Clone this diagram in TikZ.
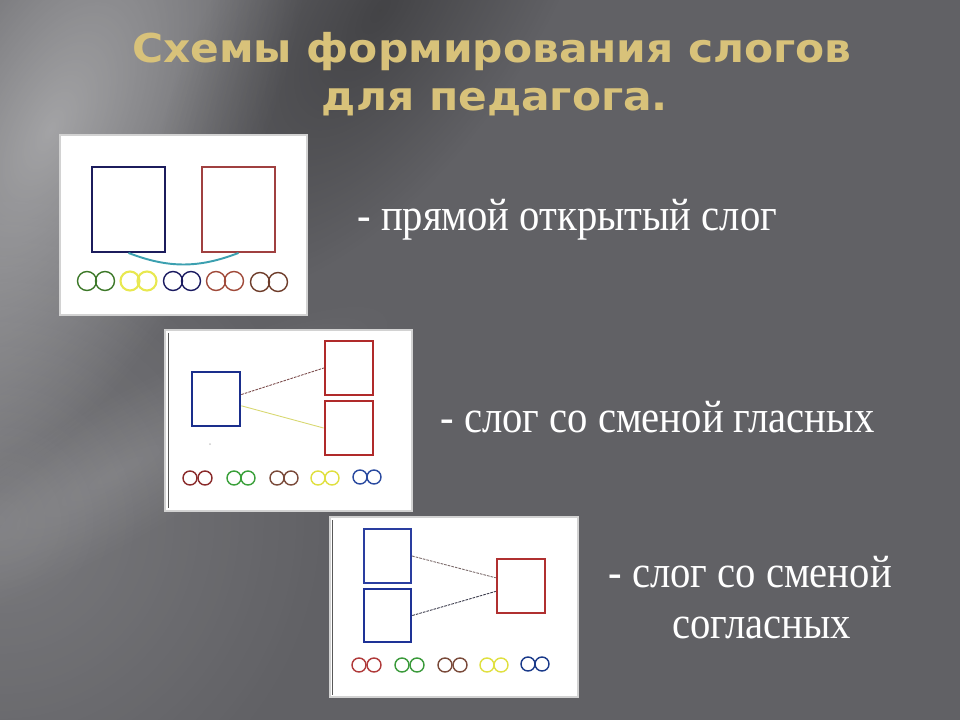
\documentclass[tikz,border=0pt]{standalone}
\usepackage{graphicx}
\usepackage{fontspec}
\setmainfont{Liberation Serif}
\newfontfamily\titlefont{DejaVu Sans}
\usetikzlibrary{fadings}
\tikzfading[name=glowfade, inner color=transparent!0, outer color=transparent!100]
\definecolor{bgbase}{HTML}{616165}
\definecolor{titlegold}{HTML}{D8C27A}
\definecolor{navyA}{RGB}{28,28,92}
\definecolor{redA}{RGB}{160,64,64}
\definecolor{tealA}{RGB}{60,160,176}
\definecolor{greenA}{RGB}{60,120,40}
\definecolor{yellowA}{RGB}{232,232,80}
\definecolor{navyC}{RGB}{26,26,96}
\definecolor{rustA}{RGB}{160,74,58}
\definecolor{brownA}{RGB}{110,60,42}
\definecolor{blueB}{RGB}{26,46,140}
\definecolor{redB}{RGB}{176,42,42}
\definecolor{lineB}{RGB}{122,74,74}
\definecolor{ylineB}{RGB}{216,216,112}
\definecolor{cRedB}{RGB}{138,42,42}
\definecolor{cGreenB}{RGB}{58,160,58}
\definecolor{cBrownB}{RGB}{122,74,58}
\definecolor{cYellowB}{RGB}{224,224,64}
\definecolor{cBlueB}{RGB}{42,74,160}
\definecolor{blueC}{RGB}{42,62,160}
\definecolor{blueD}{RGB}{30,50,150}
\definecolor{redC}{RGB}{176,48,48}
\definecolor{lineC}{RGB}{122,106,106}
\definecolor{lineD}{RGB}{58,58,74}
\definecolor{cRedC}{RGB}{176,58,58}
\definecolor{cGreenC}{RGB}{58,154,58}
\definecolor{cNavyC}{RGB}{26,58,138}
\tikzset{
  panel/.style={fill=white, draw=gray!35, line width=0.6pt},
  sqbox/.style={rectangle, inner sep=0pt, line width=1.1pt, fill=none},
  ringA/.style={circle, inner sep=0pt, minimum size=0.38cm, line width=0.8pt},
  ringB/.style={circle, inner sep=0pt, minimum size=0.28cm, line width=0.8pt},
  bodytext/.style={anchor=base west, inner sep=0pt, text=white, font=\fontsize{26}{31}\selectfont},
  titletext/.style={anchor=base, inner sep=0pt, text=titlegold, font=\titlefont\bfseries\fontsize{22.6}{27}\selectfont},
}
\newcommand{\bodyscale}[1]{\scalebox{0.89}[1]{#1}}
\newcommand{\titlescale}[1]{\scalebox{1.067}[1]{#1}}
\begin{document}
\begin{tikzpicture}[x=0.02cm,y=-0.02cm]
\useasboundingbox (0,0) rectangle (960,720);
% background
\begin{scope}
\clip (0,0) rectangle (960,720);
\fill[bgbase] (0,0) rectangle (960,720);
% broad light on the lower left
\fill[white, opacity=0.16, path fading=glowfade] (0,520) circle (330);
% light band on the left
\begin{scope}[transform canvas={shift={(50,130)}, rotate=63}]
\fill[white, opacity=0.42, path fading=glowfade] (0,0) ellipse (420 and 200);
\end{scope}
% soft light streak lower left
\begin{scope}[transform canvas={shift={(120,470)}, rotate=30}]
\fill[white, opacity=0.12, path fading=glowfade] (0,0) ellipse (320 and 70);
\end{scope}
% dark area at the top
\begin{scope}[transform canvas={shift={(380,10)}, rotate=55}]
\fill[black, opacity=0.3, path fading=glowfade] (0,0) ellipse (330 and 150);
\end{scope}
\end{scope}
% title
\node[titletext] (t1) at (492,62) {\titlescale{Схемы формирования слогов}};
\node[titletext] (t2) at (495,110) {\titlescale{для педагога.}};
% ---------- panel 1
\fill[panel] (60,135) rectangle (307,315);
\node[sqbox, draw=navyA, minimum width=1.46cm, minimum height=1.70cm] (b1) at (128.5,209.5) {};
\node[sqbox, draw=redA, minimum width=1.46cm, minimum height=1.70cm] (r1) at (238.5,209.5) {};
\draw[tealA, line width=1.1pt] (b1.south) to[bend right=21] (r1.south);
\node[ringA, draw=greenA] (p1c1) at (87,281) {};
\node[ringA, draw=greenA] (p1c2) at (105,281) {};
\node[ringA, draw=yellowA, line width=1.2pt] (p1c3) at (130,281) {};
\node[ringA, draw=yellowA, line width=1.2pt] (p1c4) at (147,281) {};
\node[ringA, draw=navyC] (p1c5) at (173,281) {};
\node[ringA, draw=navyC] (p1c6) at (191,281) {};
\node[ringA, draw=rustA] (p1c7) at (216,281) {};
\node[ringA, draw=rustA] (p1c8) at (234,281) {};
\node[ringA, draw=brownA] (p1c9) at (260,282) {};
\node[ringA, draw=brownA] (p1c10) at (278,282) {};
% ---------- panel 2
\fill[panel] (165,330) rectangle (412,511);
\draw[gray!70!black, line width=0.5pt] (168,333) -- (168,508);
\node[sqbox, draw=blueB, line width=1.5pt, minimum width=0.96cm, minimum height=1.08cm] (b2) at (216,399) {};
\node[sqbox, draw=redB, line width=1.4pt, minimum width=0.96cm, minimum height=1.08cm] (r2a) at (349,368) {};
\node[sqbox, draw=redB, line width=1.6pt, minimum width=0.96cm, minimum height=1.08cm] (r2b) at (349,428) {};
\draw[lineB, line width=0.5pt, dash pattern=on 1.5pt off 0.6pt] (b2.10) -- (r2a.west);
\draw[ylineB, line width=0.5pt] (b2.-15) -- (r2b.west);
\fill[gray!40] (210,444) circle (1);
\node[ringB, draw=cRedB] (p2c1) at (190,478) {};
\node[ringB, draw=cRedB] (p2c2) at (205,478) {};
\node[ringB, draw=cGreenB] (p2c3) at (234,478) {};
\node[ringB, draw=cGreenB] (p2c4) at (248,478) {};
\node[ringB, draw=cBrownB] (p2c5) at (277,478) {};
\node[ringB, draw=cBrownB] (p2c6) at (291,478) {};
\node[ringB, draw=cYellowB] (p2c7) at (318,478) {};
\node[ringB, draw=cYellowB] (p2c8) at (332,478) {};
\node[ringB, draw=cBlueB] (p2c9) at (360,477) {};
\node[ringB, draw=cBlueB] (p2c10) at (374,477) {};
% ---------- panel 3
\fill[panel] (330,517) rectangle (578,697);
\draw[gray!70!black, line width=0.5pt] (332,520) -- (332,695);
\node[sqbox, draw=blueC, line width=1.2pt, minimum width=0.94cm, minimum height=1.08cm] (b3a) at (387.5,556) {};
\node[sqbox, draw=blueD, line width=1.5pt, minimum width=0.94cm, minimum height=1.06cm] (b3b) at (387.5,615.5) {};
\node[sqbox, draw=redC, line width=1.4pt, minimum width=0.96cm, minimum height=1.08cm] (r3) at (521,586) {};
\draw[lineC, line width=0.5pt, dash pattern=on 1.5pt off 0.6pt] (b3a.east) -- (r3.162);
\draw[lineD, line width=0.5pt, dash pattern=on 1.5pt off 0.6pt] (b3b.east) -- (r3.192);
\node[ringB, draw=cRedC] (p3c1) at (359,665) {};
\node[ringB, draw=cRedC] (p3c2) at (374,665) {};
\node[ringB, draw=cGreenC] (p3c3) at (402,665) {};
\node[ringB, draw=cGreenC] (p3c4) at (417,665) {};
\node[ringB, draw=cBrownB] (p3c5) at (445,665) {};
\node[ringB, draw=cBrownB] (p3c6) at (460,665) {};
\node[ringB, draw=cYellowB] (p3c7) at (487,665) {};
\node[ringB, draw=cYellowB] (p3c8) at (501,665) {};
\node[ringB, draw=cNavyC] (p3c9) at (528,664) {};
\node[ringB, draw=cNavyC] (p3c10) at (542,664) {};
% ---------- texts
\node[bodytext] (l1) at (357,230) {\bodyscale{- прямой открытый слог}};
\node[bodytext] (l2) at (440,432) {\bodyscale{- слог со сменой гласных}};
\node[bodytext] (l3) at (608,587) {\bodyscale{- слог со сменой}};
\node[bodytext] (l4) at (672,638) {\bodyscale{согласных}};
\end{tikzpicture}
\end{document}
